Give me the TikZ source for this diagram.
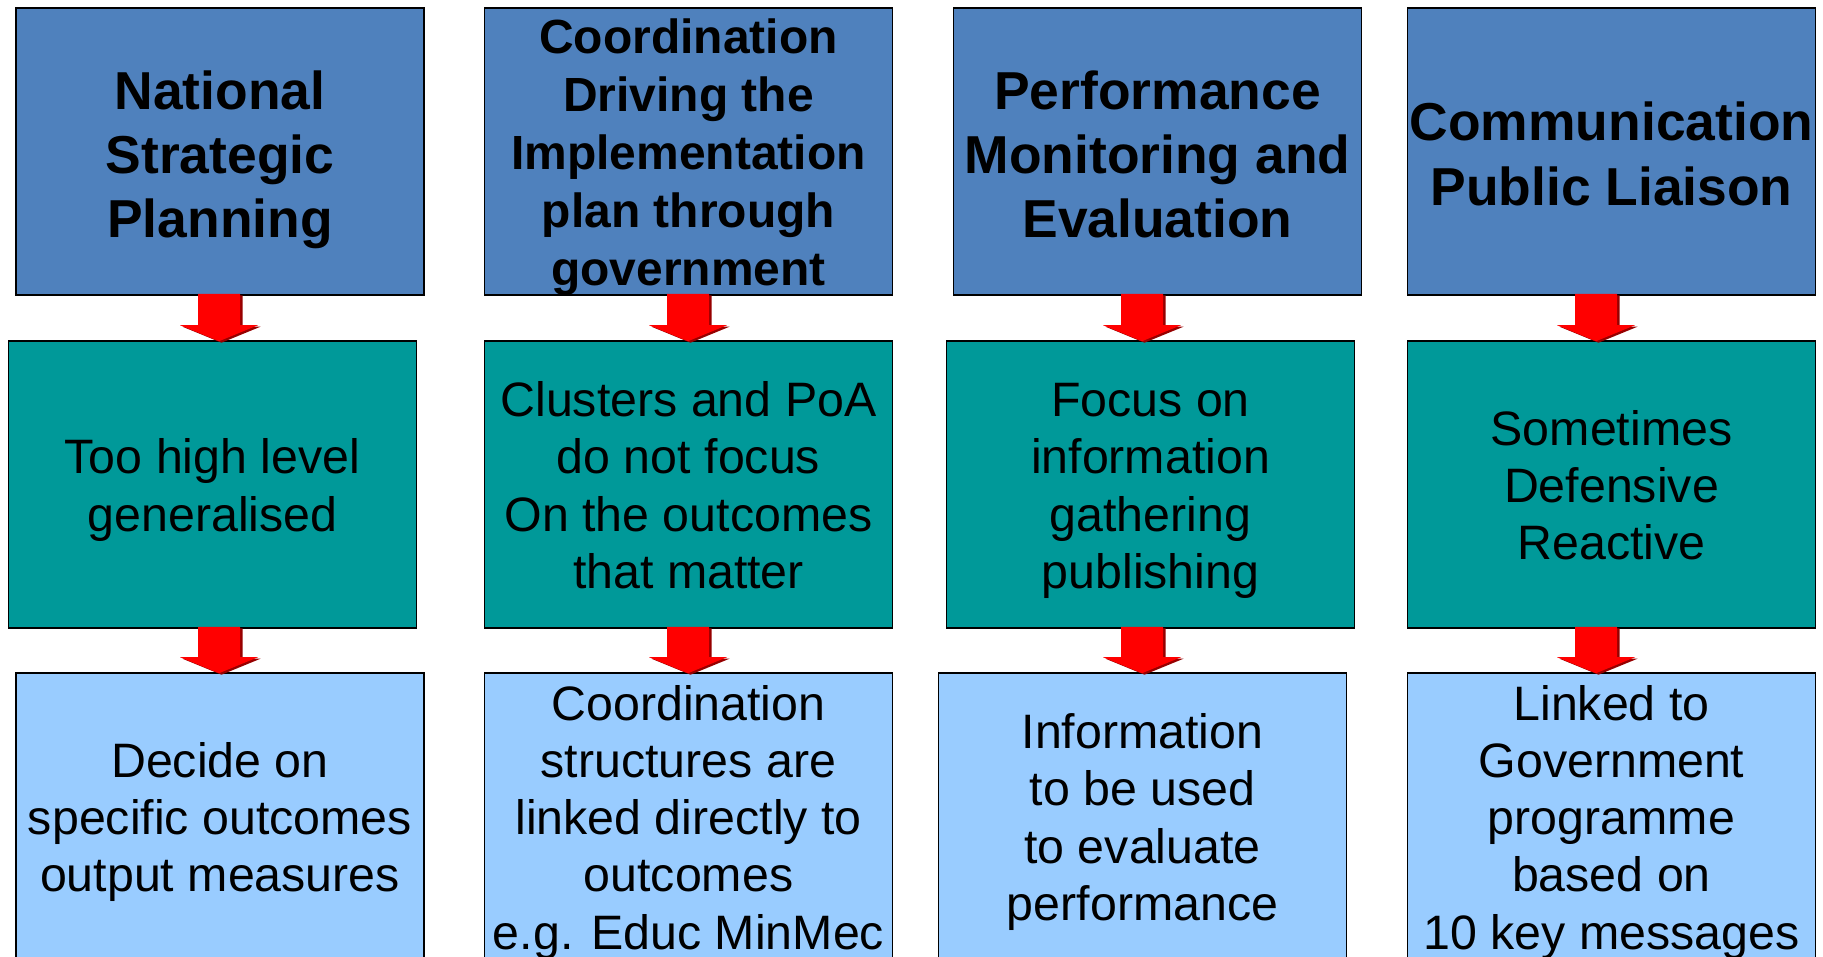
\documentclass[tikz,border=0pt]{standalone}
\usepackage{fontspec}
\setmainfont{Liberation Sans}
\usetikzlibrary{calc}

\newcommand{\pxu}{0.02cm}
% struts for first and last line, to sit the text as the slide does
\newcommand{\hs}{\rule{0pt}{1.03em}}
\newcommand{\is}{\rule{0pt}{0.96em}}
\newcommand{\ds}{\rule[-0.21em]{0pt}{0pt}}
\definecolor{headblue}{RGB}{79,129,189}
\definecolor{issueteal}{RGB}{0,153,153}
\definecolor{actionblue}{RGB}{153,204,255}
\definecolor{arrowred}{RGB}{255,0,0}
\definecolor{arrowshade}{RGB}{150,0,0}

\begin{document}
\begin{tikzpicture}[x=\pxu, y=-\pxu,
    box/.style={rectangle, draw, line width=0.9pt, minimum width=408*\pxu, minimum height=287*\pxu,
      inner xsep=0pt, inner ysep=-15*\pxu, align=center},
    head/.style={box, fill=headblue, font=\fontsize{30.4pt}{36.3pt}\selectfont\bfseries},
    issue/.style={box, fill=issueteal, font=\fontsize{27.5pt}{32.6pt}\selectfont},
    action/.style={box, fill=actionblue, font=\fontsize{27.5pt}{32.6pt}\selectfont},
    fatarrow/.style={fill=arrowred,
      preaction={fill=arrowshade, transform canvas={xshift=2.5*\pxu, yshift=-1.5*\pxu}},
      to path={let \p1=(\tikztostart), \p2=(\tikztotarget) in
        (\x1-21*\pxu,\y1+2*\pxu) -- (\x1+21*\pxu,\y1+2*\pxu) -- (\x1+21*\pxu,\y2+15*\pxu)
        -- (\x1+39*\pxu,\y2+15*\pxu) -- (\x1,\y2-1*\pxu) -- (\x1-39*\pxu,\y2+15*\pxu)
        -- (\x1-21*\pxu,\y2+15*\pxu) -- cycle}}]
    \useasboundingbox[fill=white] (0,0) rectangle (1823,957);
    % Nodes
    \node (nsp) [head] at (220,151.5) {\hs National\\Strategic\\Planning\ds};
    \node (coord) [head, font=\fontsize{27.3pt}{33pt}\selectfont\bfseries] at (688.5,151.5) {\is Coordination\\Driving the\\Implementation\\plan through\\government\ds};
    \node (perf) [head] at (1157.5,151.5) {\hs Performance\\Monitoring and\\Evaluation\ds};
    \node (comm) [head, font=\fontsize{30.4pt}{37pt}\selectfont\bfseries] at (1611.5,151.5) {\hs Communication\\Public Liaison\ds};

    \node (hilevel) [issue] at (212.5,484.5) {\is Too high level\\generalised\ds};
    \node (clusters) [issue] at (688.5,484.5) {\is Clusters and PoA\\do not focus\\On the outcomes\\that matter\ds};
    \node (focus) [issue] at (1150.5,484.5) {\is Focus on\\information\\gathering\\publishing\ds};
    \node (defensive) [issue] at (1611.5,484.5) {\is Sometimes\\Defensive\\Reactive\ds};

    \node (decide) [action] at (220,816.5) {\is Decide on\\specific outcomes\\output measures\ds};
    \node (structures) [action] at (688.5,816.5) {\is Coordination\\structures are\\linked directly to\\outcomes\\e.g. Educ MinMec\ds};
    \node (info) [action] at (1142.5,816.5) {\is Information\\to be used\\to evaluate\\performance\ds};
    \node (linked) [action] at (1611.5,816.5) {\is Linked to\\Government\\programme\\based on\\10 key messages\ds};
    % Arrows
    \fill[fatarrow] ([xshift=-1*\pxu]nsp.south) to (hilevel.north);
    \fill[fatarrow] ([xshift=6.5*\pxu]hilevel.south) to (decide.north);
    \fill[fatarrow] ([xshift=-0.5*\pxu]coord.south) to (clusters.north);
    \fill[fatarrow] ([xshift=-0.5*\pxu]clusters.south) to (structures.north);
    \fill[fatarrow] ([xshift=-15.5*\pxu]perf.south) to (focus.north);
    \fill[fatarrow] ([xshift=-8.5*\pxu]focus.south) to (info.north);
    \fill[fatarrow] ([xshift=-15.5*\pxu]comm.south) to (defensive.north);
    \fill[fatarrow] ([xshift=-15.5*\pxu]defensive.south) to (linked.north);
\end{tikzpicture}
\end{document}
